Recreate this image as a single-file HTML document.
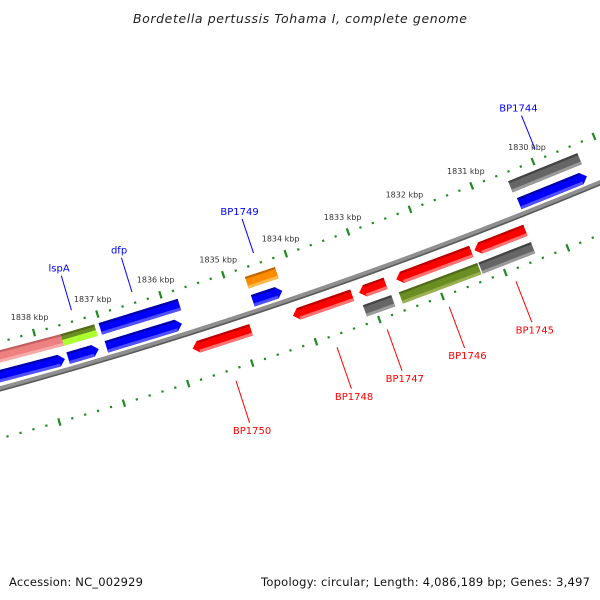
<!DOCTYPE html>
<html><head><meta charset="utf-8"><style>
html,body{margin:0;padding:0;background:#fff}
svg{display:block}
text{font-family:"DejaVu Sans","Liberation Sans",sans-serif}
</style></head><body>
<svg id="map" width="600" height="600" viewBox="0 0 600 600" xmlns="http://www.w3.org/2000/svg">
<rect width="600" height="600" fill="#fff"/>
<text x="300" y="23" text-anchor="middle" font-size="12.5" font-style="italic" fill="#222" textLength="334">Bordetella pertussis Tohama I, complete genome</text>
<text x="9" y="586" font-size="11.5" fill="#111" textLength="134">Accession: NC_002929</text>
<text x="590" y="586" font-size="11.5" fill="#111" text-anchor="end" textLength="329">Topology: circular; Length: 4,086,189 bp; Genes: 3,497</text>
<g id="plot"></g>
</svg>
<script>
// ---- data ----
const tickMin = 1828;
const tickMax = 1841;
const tickLabels = [1830,1831,1832,1833,1834,1835,1836,1837,1838];
const geneNames = ["pink-feature","lspA","dfp-a","BP1749-a","BP1744-a","blue-left","blue-small","dfp-b","BP1749-b","BP1744-b","BP1750","BP1748","BP1747-a","BP1746-a","BP1745-a","BP1747-b","BP1746-b","BP1745-b"];
const geneStarts = [1837.62,1837.09,1835.77,1834.22,1829.33,1837.66,1837.13,1835.82,1834.23,1829.33,1834.86,1833.26,1832.73,1831.36,1830.49,1832.71,1831.34,1830.48];
const geneEnds   = [1841.5,1837.62,1837.02,1834.70,1830.46,1841.5,1837.61,1837.01,1834.70,1830.43,1835.78,1834.20,1833.15,1832.56,1831.31,1833.16,1832.59,1831.32];
const geneTracks = [-30,-30,-30,-30,-30,-11,-11,-11,-11,-11,16,16,16,16,16,35,35,35];
const geneArrows = [0,0,0,0,0,1,1,1,1,1,-1,-1,-1,-1,-1,0,0,0];
const geneColors = ["pink","lime","blue","orange","gray","blue","blue","blue","blue","blue","red","red","red","red","red","gray","olive","gray"];
const labelNames = ["lspA","dfp","BP1749","BP1744","BP1750","BP1748","BP1747","BP1746","BP1745"];
const labelKbp   = [1837.36,1836.40,1834.46,1829.90,1835.31,1833.73,1832.94,1831.96,1830.90];
const labelSide  = [-1,-1,-1,-1,1,1,1,1,1];

// ---- geometry ----
const CX=-1307, CY=-4396, R0=4960, A0=71.86, DEG=0.769;
const NS="http://www.w3.org/2000/svg";
const plot=document.getElementById('plot');
function pt(k,v){const a=(A0+(k-1835)*DEG)*Math.PI/180;const r=R0+v;return [CX+r*Math.cos(a),CY+r*Math.sin(a)];}
function mk(tag,attrs){const e=document.createElementNS(NS,tag);for(const a in attrs)e.setAttribute(a,attrs[a]);plot.appendChild(e);return e;}
function ps(arr){return arr.map(p=>p[0].toFixed(2)+','+p[1].toFixed(2)).join(' ');}

// backbone
let bb=mk('circle',{cx:CX,cy:CY,r:R0,fill:'none',stroke:'#8f8f8f','stroke-width':5});


let bb2=mk('circle',{cx:CX,cy:CY,r:R0+2,fill:'none',stroke:'#5a5a5a','stroke-width':1.6});



// ticks
[-45,48].forEach(function(rv,ri){
  for(let i=0;i<=Math.round((tickMax-tickMin)*5);i++){
    const k=tickMin+i*0.2;
    const major=(i%5===0);
    const L=major?3.8:1.1;
    const a=pt(k,rv-L),b=pt(k,rv+L);
    const t=mk('line',{x1:a[0],y1:a[1],x2:b[0],y2:b[1],stroke:'#1f8a1f','stroke-width':major?2.2:2.2});
    
    
  }
});
tickLabels.forEach(function(k){
  const p=pt(k,-61);
  const t=mk('text',{x:p[0],y:p[1]+3,'text-anchor':'middle','font-size':8,fill:'#333'});
  t.textContent=k+' kbp';
  
  
});

// genes
const pal={red:['#ff0000','#b80000','#ff7070'],blue:['#0000ff','#0000a8','#5050ff'],gray:['#666666','#444444','#9a9a9a'],orange:['#ff8c00','#c06800','#ffb84a'],olive:['#6b8e23','#4f6a18','#9ab050'],pink:['#ee8080','#c06060','#f8a8a8'],lime:['#6b8e23','#556b1a','#adff2f']};
const H=6, HD=0.09;
for(let i=0;i<geneNames.length;i++){
  const k1=Math.min(geneStarts[i],geneEnds[i]), k2=Math.max(geneStarts[i],geneEnds[i]);
  const v=geneTracks[i], dir=geneArrows[i], c=pal[geneColors[i]];
  let poly, body1=k1, body2=k2;
  if(dir===1){ body1=k1+HD; poly=[pt(k2,v-H),pt(body1,v-H),pt(k1,v),pt(body1,v+H),pt(k2,v+H)]; }
  else if(dir===-1){ body2=k2-HD; poly=[pt(k1,v-H),pt(body2,v-H),pt(k2,v),pt(body2,v+H),pt(k1,v+H)]; }
  else { poly=[pt(k1,v-H),pt(k2,v-H),pt(k2,v+H),pt(k1,v+H)]; }
  // dir=-1 tip is at larger kbp (left on screen)
  if(dir===-1){ poly=[pt(k1,v-H),pt(body2,v-H),pt(k2,v),pt(body2,v+H),pt(k1,v+H)]; }
  const g=mk('polygon',{points:ps(poly),fill:c[0]});
  
  
  const top=mk('polygon',{points:ps([pt(body1,v-H),pt(body2,v-H),pt(body2,v-H+2.2),pt(body1,v-H+2.2)]),fill:c[1]});
  
  
  const lowTop = geneColors[i]==='lime' ? v : v+H-3;
  const low=mk('polygon',{points:ps([pt(body1,lowTop),pt(body2,lowTop),pt(body2,v+H),pt(body1,v+H)]),fill:c[2]});
  
  
}

// labels
for(let i=0;i<labelNames.length;i++){
  const k=labelKbp[i], s=labelSide[i];
  const col=s<0?'#0000ff':'#ff0000';
  const a=pt(k,s<0?-56:60), b=pt(k,s<0?-92:104), t=pt(k,s<0?-100:112);
  const ln=mk('line',{x1:a[0],y1:a[1],x2:b[0],y2:b[1],stroke:col,'stroke-width':1});
  
  
  const tx=mk('text',{x:t[0],y:t[1]+3.5,'text-anchor':'middle','font-size':10,fill:col});
  tx.textContent=labelNames[i];
  
  
}
</script>
</body></html>
